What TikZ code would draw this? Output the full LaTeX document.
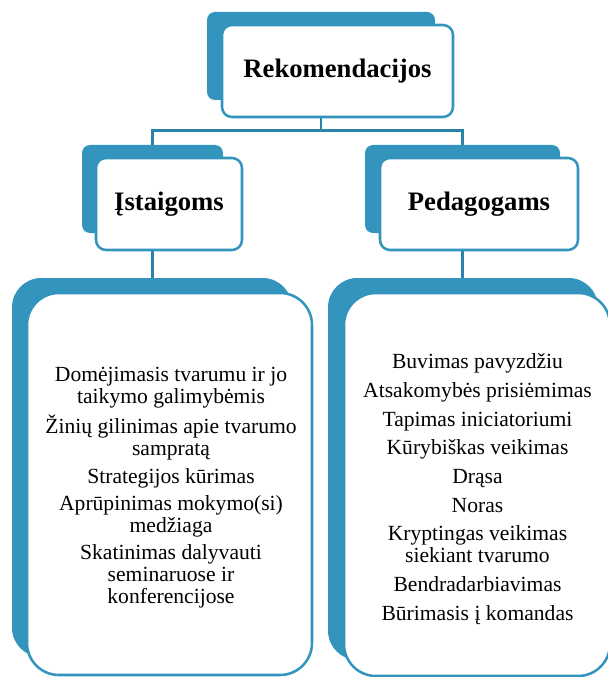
\documentclass[tikz,border=0pt]{standalone}
\usepackage{fontspec}
\setmainfont{Liberation Serif}
\definecolor{myblue}{RGB}{51,149,189}
\definecolor{linkblue}{RGB}{42,132,168}
\begin{document}
\begin{tikzpicture}[x=0.75pt,y=-0.75pt,
  backbox/.style={fill=myblue, draw=none, inner sep=0pt},
  frontbox/.style={fill=white, draw=myblue, line width=1.9pt, inner sep=0pt, align=center},
  headtext/.style={font=\fontsize{20pt}{24pt}\selectfont\bfseries},
  listtext/.style={align=center, inner sep=0pt, font=\fontsize{16.2pt}{16.5pt}\selectfont},
  conn/.style={draw=linkblue, line width=1.9pt}]
\useasboundingbox (0,0) rectangle (607,677);
% top
\node[backbox, rounded corners=6pt, minimum width=171pt, minimum height=66pt] (topB) at (321,56) {};
\node[frontbox, headtext, rounded corners=7.5pt, minimum width=173.25pt, minimum height=69pt] (topF) at (337.5,71) {Rekomendacijos};
% second level
\node[backbox, rounded corners=6pt, minimum width=105.75pt, minimum height=66pt] (istB) at (152.5,189) {};
\node[frontbox, headtext, rounded corners=7.5pt, minimum width=109.5pt, minimum height=69pt] (istF) at (169,204) {Įstaigoms};
\node[backbox, rounded corners=6pt, minimum width=146.25pt, minimum height=66pt] (pedB) at (462.5,189) {};
\node[frontbox, headtext, rounded corners=7.5pt, minimum width=148.5pt, minimum height=69pt] (pedF) at (479,204) {Pedagogams};
% big boxes
\node[backbox, rounded corners=22pt, minimum width=210pt, minimum height=284.25pt] (bigLB) at (152,467.5) {};
\node[frontbox, rounded corners=24pt, minimum width=213.75pt, minimum height=286.5pt] (bigLF) at (169.5,484) {};
\node[backbox, rounded corners=22pt, minimum width=202.5pt, minimum height=286.5pt] (bigRB) at (463,469) {};
\node[frontbox, rounded corners=24pt, minimum width=199.5pt, minimum height=287.25pt] (bigRF) at (477,484.5) {};
% lists
\node[listtext] (listL) at (171,488) {Domėjimasis tvarumu ir jo\\taikymo galimybėmis\\[4pt]
Žinių gilinimas apie tvarumo\\samprat\k{a}\\[4pt]
Strategijos kūrimas\\[4pt]
Aprūpinimas mokymo(si)\\medžiaga\\[4pt]
Skatinimas dalyvauti\\seminaruose ir\\konferencijose};
\node[listtext] (listR) at (477.5,489) {Buvimas pavyzdžiu\\[5pt]
Atsakomybės prisiėmimas\\[5pt]
Tapimas iniciatoriumi\\[5pt]
Kūrybiškas veikimas\\[5pt]
Drąsa\\[5pt]
Noras\\[5pt]
Kryptingas veikimas\\siekiant tvarumo\\[5pt]
Bendradarbiavimas\\[5pt]
Būrimasis į komandas};
% connectors
\coordinate (junc) at ([yshift=-12*0.75pt]topF.south -| topB.center);
\draw[conn] (topF.south -| topB.center) -- (junc);
\draw[conn] (junc) -| (istB.north);
\draw[conn] (junc) -| (pedB.north);
\draw[conn] (istF.south -| istB.center) -- (bigLB.north -| istB.center);
\draw[conn] (pedF.south -| pedB.center) -- (bigRB.north -| pedB.center);
\end{tikzpicture}
\end{document}
